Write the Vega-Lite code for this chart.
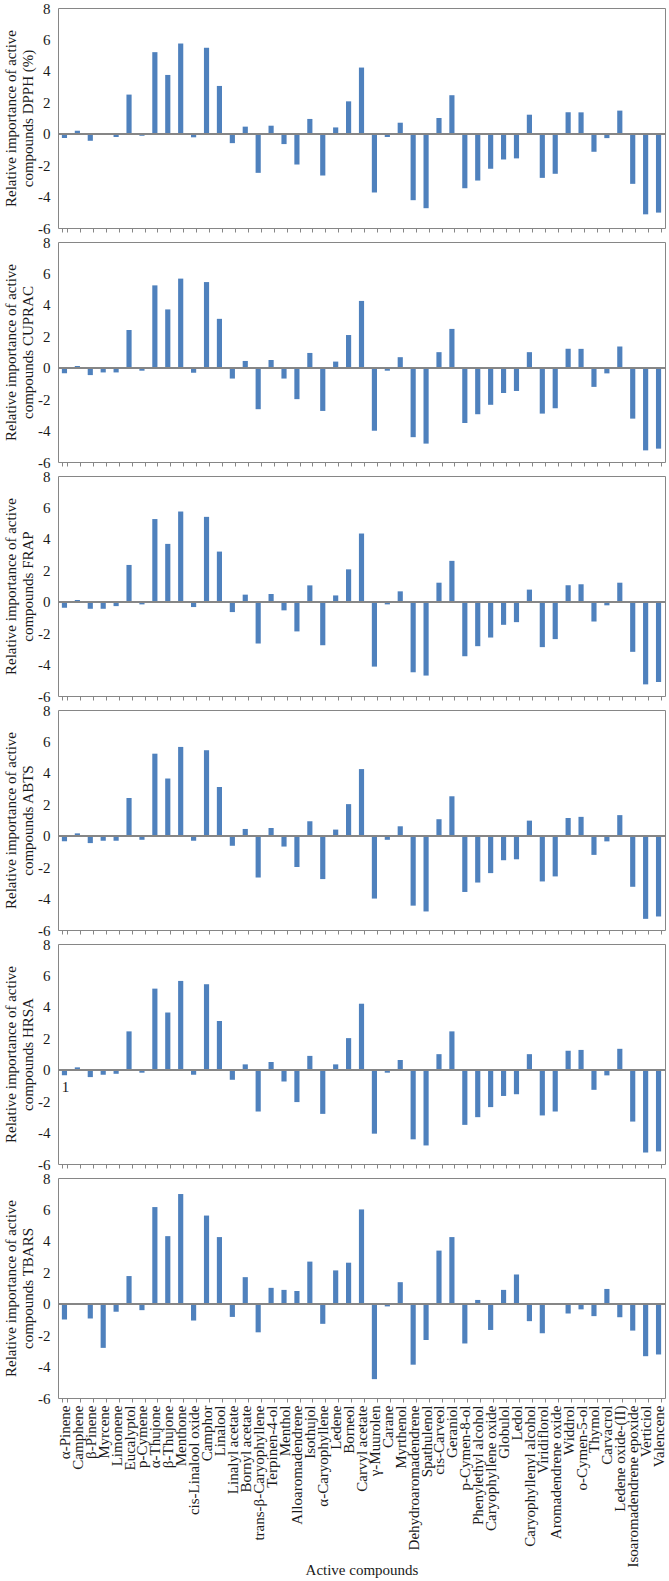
{
  "$schema": "https://vega.github.io/schema/vega-lite/v6.json",
  "background": "white",
  "padding": {"left": 3, "top": 0, "right": 4, "bottom": 0},
  "bounds": "flush",
  "spacing": 14,
  "config": {
    "font": "Liberation Serif",
    "view": {"stroke": "#868686", "strokeWidth": 1},
    "axis": {
      "labelFont": "Liberation Serif",
      "titleFont": "Liberation Serif",
      "labelFontSize": 15,
      "titleFontSize": 15,
      "titleFontWeight": "normal",
      "labelColor": "#1a1a1a",
      "titleColor": "#1a1a1a",
      "domain": false,
      "grid": false,
      "tickColor": "#868686"
    },
    "axisX": {"tickBand": "extent", "tickSize": 4, "labels": false, "title": null},
    "axisY": {"ticks": false, "labelPadding": 8, "titlePadding": 2, "values": [-6, -4, -2, 0, 2, 4, 6, 8], "labelExpr": "'' + datum.value"}
  },
  "datasets": {
    "DPPH": [
      {"compound": "α-Pinene", "value": -0.28}, {"compound": "Camphene", "value": 0.19}, {"compound": "β-Pinene", "value": -0.45}, {"compound": "Myrcene", "value": -0.05}, {"compound": "Limonene", "value": -0.21}, {"compound": "Eucalyptol", "value": 2.49}, {"compound": "p-Cymene", "value": -0.13}, {"compound": "α-Thujone", "value": 5.19}, {"compound": "β-Thujone", "value": 3.74}, {"compound": "Menthone", "value": 5.74},
      {"compound": "cis-Linalool oxide", "value": -0.23}, {"compound": "Camphor", "value": 5.47}, {"compound": "Linalool", "value": 3.04}, {"compound": "Linalyl acetate", "value": -0.6}, {"compound": "Bornyl acetate", "value": 0.45}, {"compound": "trans-β-Caryophyllene", "value": -2.49}, {"compound": "Terpinen-4-ol", "value": 0.51}, {"compound": "Menthol", "value": -0.66}, {"compound": "Alloaromadendrene", "value": -1.96}, {"compound": "Isothujol", "value": 0.94},
      {"compound": "α-Caryophyllene", "value": -2.66}, {"compound": "Ledene", "value": 0.4}, {"compound": "Borneol", "value": 2.06}, {"compound": "Carvyl acetate", "value": 4.21}, {"compound": "γ-Muurolen", "value": -3.74}, {"compound": "Carane", "value": -0.21}, {"compound": "Myrthenol", "value": 0.7}, {"compound": "Dehydroaromadendrene", "value": -4.23}, {"compound": "Spathulenol", "value": -4.74}, {"compound": "cis-Carveol", "value": 1.0},
      {"compound": "Geraniol", "value": 2.45}, {"compound": "p-Cymen-8-ol", "value": -3.47}, {"compound": "Phenylethyl alcohol", "value": -2.98}, {"compound": "Caryophyllene oxide", "value": -2.23}, {"compound": "Globulol", "value": -1.64}, {"compound": "Ledol", "value": -1.57}, {"compound": "Caryophyllenyl alcohol", "value": 1.21}, {"compound": "Viridiflorol", "value": -2.81}, {"compound": "Aromadendrene oxide", "value": -2.55}, {"compound": "Widdrol", "value": 1.36},
      {"compound": "o-Cymen-5-ol", "value": 1.36}, {"compound": "Thymol", "value": -1.15}, {"compound": "Carvacrol", "value": -0.28}, {"compound": "Ledene oxide-(II)", "value": 1.47}, {"compound": "Isoaromadendrene epoxide", "value": -3.19}, {"compound": "Verticiol", "value": -5.13}, {"compound": "Valencene", "value": -5.02}
    ],
    "CUPRAC": [
      {"compound": "α-Pinene", "value": -0.36}, {"compound": "Camphene", "value": 0.11}, {"compound": "β-Pinene", "value": -0.47}, {"compound": "Myrcene", "value": -0.3}, {"compound": "Limonene", "value": -0.3}, {"compound": "Eucalyptol", "value": 2.4}, {"compound": "p-Cymene", "value": -0.19}, {"compound": "α-Thujone", "value": 5.24}, {"compound": "β-Thujone", "value": 3.71}, {"compound": "Menthone", "value": 5.67},
      {"compound": "cis-Linalool oxide", "value": -0.32}, {"compound": "Camphor", "value": 5.45}, {"compound": "Linalool", "value": 3.11}, {"compound": "Linalyl acetate", "value": -0.69}, {"compound": "Bornyl acetate", "value": 0.43}, {"compound": "trans-β-Caryophyllene", "value": -2.64}, {"compound": "Terpinen-4-ol", "value": 0.49}, {"compound": "Menthol", "value": -0.69}, {"compound": "Alloaromadendrene", "value": -2.0}, {"compound": "Isothujol", "value": 0.94},
      {"compound": "α-Caryophyllene", "value": -2.75}, {"compound": "Ledene", "value": 0.39}, {"compound": "Borneol", "value": 2.08}, {"compound": "Carvyl acetate", "value": 4.25}, {"compound": "γ-Muurolen", "value": -4.01}, {"compound": "Carane", "value": -0.19}, {"compound": "Myrthenol", "value": 0.67}, {"compound": "Dehydroaromadendrene", "value": -4.42}, {"compound": "Spathulenol", "value": -4.83}, {"compound": "cis-Carveol", "value": 0.99},
      {"compound": "Geraniol", "value": 2.47}, {"compound": "p-Cymen-8-ol", "value": -3.52}, {"compound": "Phenylethyl alcohol", "value": -2.96}, {"compound": "Caryophyllene oxide", "value": -2.36}, {"compound": "Globulol", "value": -1.61}, {"compound": "Ledol", "value": -1.48}, {"compound": "Caryophyllenyl alcohol", "value": 0.99}, {"compound": "Viridiflorol", "value": -2.92}, {"compound": "Aromadendrene oxide", "value": -2.58}, {"compound": "Widdrol", "value": 1.2},
      {"compound": "o-Cymen-5-ol", "value": 1.2}, {"compound": "Thymol", "value": -1.22}, {"compound": "Carvacrol", "value": -0.36}, {"compound": "Ledene oxide-(II)", "value": 1.35}, {"compound": "Isoaromadendrene epoxide", "value": -3.24}, {"compound": "Verticiol", "value": -5.26}, {"compound": "Valencene", "value": -5.15}
    ],
    "FRAP": [
      {"compound": "α-Pinene", "value": -0.38}, {"compound": "Camphene", "value": 0.11}, {"compound": "β-Pinene", "value": -0.45}, {"compound": "Myrcene", "value": -0.45}, {"compound": "Limonene", "value": -0.28}, {"compound": "Eucalyptol", "value": 2.34}, {"compound": "p-Cymene", "value": -0.17}, {"compound": "α-Thujone", "value": 5.26}, {"compound": "β-Thujone", "value": 3.68}, {"compound": "Menthone", "value": 5.74},
      {"compound": "cis-Linalool oxide", "value": -0.34}, {"compound": "Camphor", "value": 5.4}, {"compound": "Linalool", "value": 3.19}, {"compound": "Linalyl acetate", "value": -0.66}, {"compound": "Bornyl acetate", "value": 0.45}, {"compound": "trans-β-Caryophyllene", "value": -2.66}, {"compound": "Terpinen-4-ol", "value": 0.49}, {"compound": "Menthol", "value": -0.55}, {"compound": "Alloaromadendrene", "value": -1.89}, {"compound": "Isothujol", "value": 1.04},
      {"compound": "α-Caryophyllene", "value": -2.77}, {"compound": "Ledene", "value": 0.4}, {"compound": "Borneol", "value": 2.06}, {"compound": "Carvyl acetate", "value": 4.34}, {"compound": "γ-Muurolen", "value": -4.13}, {"compound": "Carane", "value": -0.17}, {"compound": "Myrthenol", "value": 0.66}, {"compound": "Dehydroaromadendrene", "value": -4.49}, {"compound": "Spathulenol", "value": -4.7}, {"compound": "cis-Carveol", "value": 1.21},
      {"compound": "Geraniol", "value": 2.6}, {"compound": "p-Cymen-8-ol", "value": -3.47}, {"compound": "Phenylethyl alcohol", "value": -2.83}, {"compound": "Caryophyllene oxide", "value": -2.28}, {"compound": "Globulol", "value": -1.47}, {"compound": "Ledol", "value": -1.3}, {"compound": "Caryophyllenyl alcohol", "value": 0.77}, {"compound": "Viridiflorol", "value": -2.89}, {"compound": "Aromadendrene oxide", "value": -2.38}, {"compound": "Widdrol", "value": 1.04},
      {"compound": "o-Cymen-5-ol", "value": 1.11}, {"compound": "Thymol", "value": -1.26}, {"compound": "Carvacrol", "value": -0.23}, {"compound": "Ledene oxide-(II)", "value": 1.21}, {"compound": "Isoaromadendrene epoxide", "value": -3.19}, {"compound": "Verticiol", "value": -5.26}, {"compound": "Valencene", "value": -5.11}
    ],
    "ABTS": [
      {"compound": "α-Pinene", "value": -0.36}, {"compound": "Camphene", "value": 0.15}, {"compound": "β-Pinene", "value": -0.47}, {"compound": "Myrcene", "value": -0.32}, {"compound": "Limonene", "value": -0.32}, {"compound": "Eucalyptol", "value": 2.4}, {"compound": "p-Cymene", "value": -0.26}, {"compound": "α-Thujone", "value": 5.22}, {"compound": "β-Thujone", "value": 3.64}, {"compound": "Menthone", "value": 5.65},
      {"compound": "cis-Linalool oxide", "value": -0.32}, {"compound": "Camphor", "value": 5.44}, {"compound": "Linalool", "value": 3.1}, {"compound": "Linalyl acetate", "value": -0.64}, {"compound": "Bornyl acetate", "value": 0.43}, {"compound": "trans-β-Caryophyllene", "value": -2.66}, {"compound": "Terpinen-4-ol", "value": 0.49}, {"compound": "Menthol", "value": -0.69}, {"compound": "Alloaromadendrene", "value": -1.99}, {"compound": "Isothujol", "value": 0.92},
      {"compound": "α-Caryophyllene", "value": -2.76}, {"compound": "Ledene", "value": 0.39}, {"compound": "Borneol", "value": 2.01}, {"compound": "Carvyl acetate", "value": 4.24}, {"compound": "γ-Muurolen", "value": -4.0}, {"compound": "Carane", "value": -0.26}, {"compound": "Myrthenol", "value": 0.6}, {"compound": "Dehydroaromadendrene", "value": -4.45}, {"compound": "Spathulenol", "value": -4.82}, {"compound": "cis-Carveol", "value": 1.05},
      {"compound": "Geraniol", "value": 2.51}, {"compound": "p-Cymen-8-ol", "value": -3.58}, {"compound": "Phenylethyl alcohol", "value": -2.98}, {"compound": "Caryophyllene oxide", "value": -2.38}, {"compound": "Globulol", "value": -1.56}, {"compound": "Ledol", "value": -1.5}, {"compound": "Caryophyllenyl alcohol", "value": 0.96}, {"compound": "Viridiflorol", "value": -2.91}, {"compound": "Aromadendrene oxide", "value": -2.59}, {"compound": "Widdrol", "value": 1.13},
      {"compound": "o-Cymen-5-ol", "value": 1.2}, {"compound": "Thymol", "value": -1.22}, {"compound": "Carvacrol", "value": -0.36}, {"compound": "Ledene oxide-(II)", "value": 1.31}, {"compound": "Isoaromadendrene epoxide", "value": -3.25}, {"compound": "Verticiol", "value": -5.29}, {"compound": "Valencene", "value": -5.14}
    ],
    "HRSA": [
      {"compound": "α-Pinene", "value": -0.36}, {"compound": "Camphene", "value": 0.15}, {"compound": "β-Pinene", "value": -0.47}, {"compound": "Myrcene", "value": -0.32}, {"compound": "Limonene", "value": -0.26}, {"compound": "Eucalyptol", "value": 2.44}, {"compound": "p-Cymene", "value": -0.19}, {"compound": "α-Thujone", "value": 5.16}, {"compound": "β-Thujone", "value": 3.64}, {"compound": "Menthone", "value": 5.65},
      {"compound": "cis-Linalool oxide", "value": -0.32}, {"compound": "Camphor", "value": 5.44}, {"compound": "Linalool", "value": 3.1}, {"compound": "Linalyl acetate", "value": -0.64}, {"compound": "Bornyl acetate", "value": 0.34}, {"compound": "trans-β-Caryophyllene", "value": -2.66}, {"compound": "Terpinen-4-ol", "value": 0.49}, {"compound": "Menthol", "value": -0.75}, {"compound": "Alloaromadendrene", "value": -2.06}, {"compound": "Isothujol", "value": 0.88},
      {"compound": "α-Caryophyllene", "value": -2.81}, {"compound": "Ledene", "value": 0.34}, {"compound": "Borneol", "value": 2.01}, {"compound": "Carvyl acetate", "value": 4.2}, {"compound": "γ-Muurolen", "value": -4.07}, {"compound": "Carane", "value": -0.19}, {"compound": "Myrthenol", "value": 0.62}, {"compound": "Dehydroaromadendrene", "value": -4.43}, {"compound": "Spathulenol", "value": -4.82}, {"compound": "cis-Carveol", "value": 0.99},
      {"compound": "Geraniol", "value": 2.44}, {"compound": "p-Cymen-8-ol", "value": -3.51}, {"compound": "Phenylethyl alcohol", "value": -3.02}, {"compound": "Caryophyllene oxide", "value": -2.38}, {"compound": "Globulol", "value": -1.67}, {"compound": "Ledol", "value": -1.56}, {"compound": "Caryophyllenyl alcohol", "value": 0.99}, {"compound": "Viridiflorol", "value": -2.91}, {"compound": "Aromadendrene oxide", "value": -2.66}, {"compound": "Widdrol", "value": 1.2},
      {"compound": "o-Cymen-5-ol", "value": 1.26}, {"compound": "Thymol", "value": -1.28}, {"compound": "Carvacrol", "value": -0.36}, {"compound": "Ledene oxide-(II)", "value": 1.33}, {"compound": "Isoaromadendrene epoxide", "value": -3.3}, {"compound": "Verticiol", "value": -5.27}, {"compound": "Valencene", "value": -5.2}
    ],
    "TBARS": [
      {"compound": "α-Pinene", "value": -1.01}, {"compound": "Camphene", "value": 0.0}, {"compound": "β-Pinene", "value": -0.94}, {"compound": "Myrcene", "value": -2.81}, {"compound": "Limonene", "value": -0.51}, {"compound": "Eucalyptol", "value": 1.76}, {"compound": "p-Cymene", "value": -0.41}, {"compound": "α-Thujone", "value": 6.15}, {"compound": "β-Thujone", "value": 4.3}, {"compound": "Menthone", "value": 6.98},
      {"compound": "cis-Linalool oxide", "value": -1.07}, {"compound": "Camphor", "value": 5.61}, {"compound": "Linalool", "value": 4.24}, {"compound": "Linalyl acetate", "value": -0.84}, {"compound": "Bornyl acetate", "value": 1.69}, {"compound": "trans-β-Caryophyllene", "value": -1.82}, {"compound": "Terpinen-4-ol", "value": 1.01}, {"compound": "Menthol", "value": 0.88}, {"compound": "Alloaromadendrene", "value": 0.81}, {"compound": "Isothujol", "value": 2.68},
      {"compound": "α-Caryophyllene", "value": -1.28}, {"compound": "Ledene", "value": 2.12}, {"compound": "Borneol", "value": 2.61}, {"compound": "Carvyl acetate", "value": 6.0}, {"compound": "γ-Muurolen", "value": -4.8}, {"compound": "Carane", "value": -0.17}, {"compound": "Myrthenol", "value": 1.37}, {"compound": "Dehydroaromadendrene", "value": -3.88}, {"compound": "Spathulenol", "value": -2.31}, {"compound": "cis-Carveol", "value": 3.38},
      {"compound": "Geraniol", "value": 4.24}, {"compound": "p-Cymen-8-ol", "value": -2.53}, {"compound": "Phenylethyl alcohol", "value": 0.24}, {"compound": "Caryophyllene oxide", "value": -1.67}, {"compound": "Globulol", "value": 0.88}, {"compound": "Ledol", "value": 1.86}, {"compound": "Caryophyllenyl alcohol", "value": -1.11}, {"compound": "Viridiflorol", "value": -1.88}, {"compound": "Aromadendrene oxide", "value": 0.04}, {"compound": "Widdrol", "value": -0.62},
      {"compound": "o-Cymen-5-ol", "value": -0.36}, {"compound": "Thymol", "value": -0.79}, {"compound": "Carvacrol", "value": 0.94}, {"compound": "Ledene oxide-(II)", "value": -0.86}, {"compound": "Isoaromadendrene epoxide", "value": -1.71}, {"compound": "Verticiol", "value": -3.34}, {"compound": "Valencene", "value": -3.23}
    ]
  },
  "vconcat": [
    {
      "width": 607, "height": 220,
      "data": {"name": "DPPH"},
      "layer": [
        {"mark": {"type": "bar", "color": "#4F81BD"},
         "encoding": {
           "x": {"field": "compound", "type": "nominal", "sort": null, "scale": {"paddingInner": 0.6, "paddingOuter": 0.3}},
           "y": {"field": "value", "type": "quantitative", "scale": {"domain": [-6, 8], "nice": false}, "axis": {"title": ["Relative importance of active", "compounds DPPH (%)"]}}
         }},
        {"mark": {"type": "rule", "color": "#868686", "strokeWidth": 1.5}, "encoding": {"y": {"datum": 0}}}
      ]
    },
    {
      "width": 607, "height": 220,
      "data": {"name": "CUPRAC"},
      "layer": [
        {"mark": {"type": "bar", "color": "#4F81BD"},
         "encoding": {
           "x": {"field": "compound", "type": "nominal", "sort": null, "scale": {"paddingInner": 0.6, "paddingOuter": 0.3}},
           "y": {"field": "value", "type": "quantitative", "scale": {"domain": [-6, 8], "nice": false}, "axis": {"title": ["Relative importance of active", "compounds CUPRAC"]}}
         }},
        {"mark": {"type": "rule", "color": "#868686", "strokeWidth": 1.5}, "encoding": {"y": {"datum": 0}}}
      ]
    },
    {
      "width": 607, "height": 220,
      "data": {"name": "FRAP"},
      "layer": [
        {"mark": {"type": "bar", "color": "#4F81BD"},
         "encoding": {
           "x": {"field": "compound", "type": "nominal", "sort": null, "scale": {"paddingInner": 0.6, "paddingOuter": 0.3}},
           "y": {"field": "value", "type": "quantitative", "scale": {"domain": [-6, 8], "nice": false}, "axis": {"title": ["Relative importance of active", "compounds FRAP"]}}
         }},
        {"mark": {"type": "rule", "color": "#868686", "strokeWidth": 1.5}, "encoding": {"y": {"datum": 0}}}
      ]
    },
    {
      "width": 607, "height": 220,
      "data": {"name": "ABTS"},
      "layer": [
        {"mark": {"type": "bar", "color": "#4F81BD"},
         "encoding": {
           "x": {"field": "compound", "type": "nominal", "sort": null, "scale": {"paddingInner": 0.6, "paddingOuter": 0.3}},
           "y": {"field": "value", "type": "quantitative", "scale": {"domain": [-6, 8], "nice": false}, "axis": {"title": ["Relative importance of active", "compounds ABTS"]}}
         }},
        {"mark": {"type": "rule", "color": "#868686", "strokeWidth": 1.5}, "encoding": {"y": {"datum": 0}}}
      ]
    },
    {
      "width": 607, "height": 220,
      "data": {"name": "HRSA"},
      "layer": [
        {"mark": {"type": "bar", "color": "#4F81BD"},
         "encoding": {
           "x": {"field": "compound", "type": "nominal", "sort": null, "scale": {"paddingInner": 0.6, "paddingOuter": 0.3}},
           "y": {"field": "value", "type": "quantitative", "scale": {"domain": [-6, 8], "nice": false}, "axis": {"title": ["Relative importance of active", "compounds HRSA"]}}
         }},
        {"mark": {"type": "rule", "color": "#868686", "strokeWidth": 1.5}, "encoding": {"y": {"datum": 0}}},
        {"data": {"values": [{"compound": "α-Pinene", "value": -1.1, "note": "1"}]},
         "mark": {"type": "text", "align": "left", "baseline": "middle", "fontSize": 15, "font": "Liberation Serif", "color": "#1a1a1a"},
         "encoding": {
           "x": {"field": "compound", "type": "nominal", "sort": null, "bandPosition": 0},
           "y": {"field": "value", "type": "quantitative"},
           "text": {"field": "note"}
         }}
      ]
    },
    {
      "width": 607, "height": 220,
      "data": {"name": "TBARS"},
      "layer": [
        {"mark": {"type": "bar", "color": "#4F81BD"},
         "encoding": {
           "x": {"field": "compound", "type": "nominal", "sort": null, "scale": {"paddingInner": 0.6, "paddingOuter": 0.3},
                 "axis": {"labels": true, "labelAngle": -90, "labelPadding": 3, "labelLimit": 400, "labelOverlap": false, "title": "Active compounds", "titleY": 176, "titleBaseline": "alphabetic"}},
           "y": {"field": "value", "type": "quantitative", "scale": {"domain": [-6, 8], "nice": false}, "axis": {"title": ["Relative importance of active", "compounds TBARS"]}}
         }},
        {"mark": {"type": "rule", "color": "#868686", "strokeWidth": 1.5}, "encoding": {"y": {"datum": 0}}}
      ]
    }
  ]
}
